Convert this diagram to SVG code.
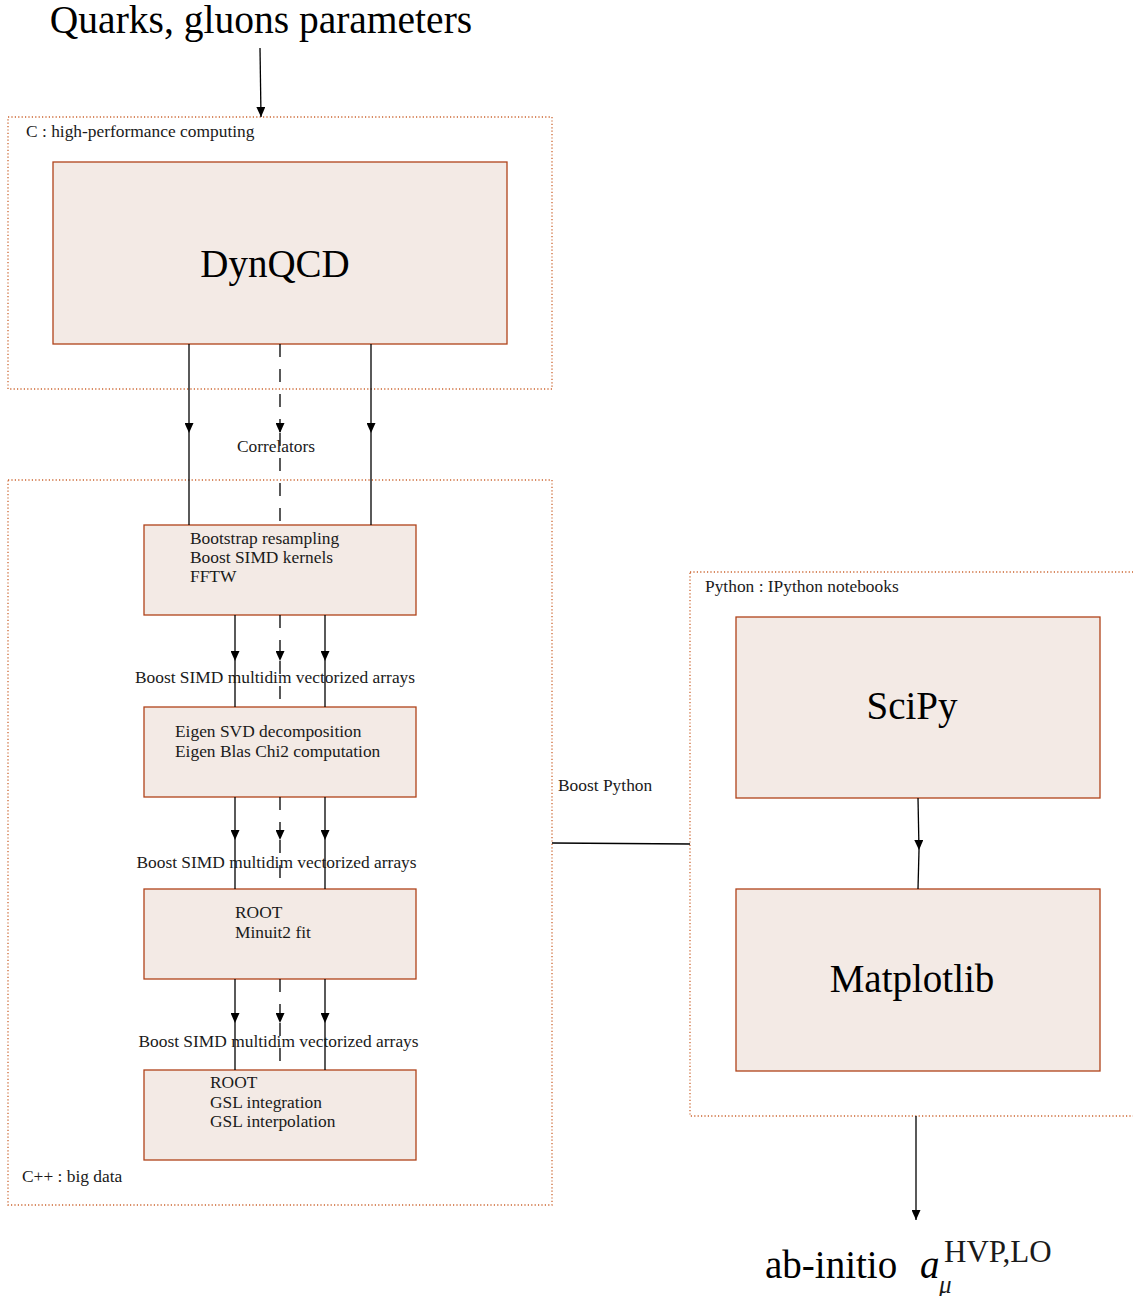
<svg xmlns="http://www.w3.org/2000/svg" width="1133" height="1296" viewBox="0 0 1133 1296">
<style>
  text { font-family: "Liberation Serif", "Times New Roman", serif; fill: #1a1a1a; }
  .big { font-size: 39px; fill: #000; }
  .small { font-size: 17.4px; }
  .title { font-size: 39.5px; fill: #000; }
  .box { fill: #f3eae5; stroke: #b0421a; stroke-width: 1.3; }
  .frame { fill: none; stroke: #cc6530; stroke-width: 1.3; stroke-dasharray: 1.2 2.2; }
  .conn { fill: none; stroke: #000; stroke-width: 1.3; }
  .dash { stroke-dasharray: 13 12; }
</style>
<defs>
  <marker id="arr" viewBox="0 0 10 9" refX="10" refY="4.5" markerWidth="10" markerHeight="9" markerUnits="userSpaceOnUse" orient="auto">
    <path d="M0,0 L10,4.5 L0,9 z" fill="#000"/>
  </marker>
</defs>
<rect width="1133" height="1296" fill="#fff"/>

<g id="group-c">
  <rect class="frame" x="8" y="117" width="544" height="272"/>
  <text class="small" x="26" y="137">C : high-performance computing</text>
</g>
<g id="group-cpp">
  <rect class="frame" x="8" y="480" width="544" height="725"/>
  <text class="small" x="22" y="1182">C++ : big data</text>
</g>
<g id="group-python">
  <rect class="frame" x="690" y="572" width="460" height="544"/>
  <text class="small" x="705" y="592">Python : IPython notebooks</text>
</g>

<g id="input">
  <text class="title" x="261" y="33" text-anchor="middle">Quarks, gluons parameters</text>
</g>

<g id="dynqcd">
  <rect class="box" x="53" y="162" width="454" height="182"/>
  <text class="big" x="275" y="277" text-anchor="middle">DynQCD</text>
</g>

<g id="bootstrap">
  <rect class="box" x="144" y="525" width="272" height="90"/>
  <text class="small" x="190" y="544">Bootstrap resampling</text>
  <text class="small" x="190" y="563">Boost SIMD kernels</text>
  <text class="small" x="190" y="582">FFTW</text>
</g>

<g id="eigen">
  <rect class="box" x="144" y="707" width="272" height="90"/>
  <text class="small" x="175" y="737">Eigen SVD decomposition</text>
  <text class="small" x="175" y="757">Eigen Blas Chi2 computation</text>
</g>

<g id="root-fit">
  <rect class="box" x="144" y="889" width="272" height="90"/>
  <text class="small" x="235" y="918">ROOT</text>
  <text class="small" x="235" y="938">Minuit2 fit</text>
</g>

<g id="root-gsl">
  <rect class="box" x="144" y="1070" width="272" height="90"/>
  <text class="small" x="210" y="1088">ROOT</text>
  <text class="small" x="210" y="1108">GSL integration</text>
  <text class="small" x="210" y="1127">GSL interpolation</text>
</g>

<g id="scipy">
  <rect class="box" x="736" y="617" width="364" height="181"/>
  <text class="big" x="912" y="719" text-anchor="middle">SciPy</text>
</g>

<g id="matplotlib">
  <rect class="box" x="736" y="889" width="364" height="182"/>
  <text class="big" x="912" y="992" text-anchor="middle">Matplotlib</text>
</g>

<g id="output">
  <text class="big" x="765" y="1278">ab-initio</text>
  <text class="big" x="920" y="1278" font-style="italic">a</text>
  <text x="944" y="1262" font-size="31" fill="#000">HVP,LO</text>
  <text x="939" y="1293" font-size="25" font-style="italic" fill="#000">μ</text>
</g>

<g id="connectors">
  <path class="conn" d="M260,48 L261,117" marker-end="url(#arr)"/>

  <path class="conn" d="M189,344 V433" marker-end="url(#arr)"/>
  <path class="conn" d="M189,433 V525"/>
  <path class="conn dash" d="M280,344 V433" marker-end="url(#arr)"/>
  <path class="conn dash" d="M280,433 V525"/>
  <path class="conn" d="M371,344 V433" marker-end="url(#arr)"/>
  <path class="conn" d="M371,433 V525"/>

  <path class="conn" d="M235,615 V661" marker-end="url(#arr)"/>
  <path class="conn" d="M235,661 V707"/>
  <path class="conn dash" d="M280,615 V661" marker-end="url(#arr)"/>
  <path class="conn dash" d="M280,661 V707"/>
  <path class="conn" d="M325,615 V661" marker-end="url(#arr)"/>
  <path class="conn" d="M325,661 V707"/>

  <path class="conn" d="M235,797 V840" marker-end="url(#arr)"/>
  <path class="conn" d="M235,840 V889"/>
  <path class="conn dash" d="M280,797 V840" marker-end="url(#arr)"/>
  <path class="conn dash" d="M280,840 V889"/>
  <path class="conn" d="M325,797 V840" marker-end="url(#arr)"/>
  <path class="conn" d="M325,840 V889"/>

  <path class="conn" d="M235,979 V1023" marker-end="url(#arr)"/>
  <path class="conn" d="M235,1023 V1070"/>
  <path class="conn dash" d="M280,979 V1023" marker-end="url(#arr)"/>
  <path class="conn dash" d="M280,1023 V1070"/>
  <path class="conn" d="M325,979 V1023" marker-end="url(#arr)"/>
  <path class="conn" d="M325,1023 V1070"/>

  <path class="conn" d="M552,843 L690,844"/>

  <path class="conn" d="M918,798 L919,850" marker-end="url(#arr)"/>
  <path class="conn" d="M919,850 L918,889"/>

  <path class="conn" d="M916,1116 V1220" marker-end="url(#arr)"/>
</g>

<g id="connector-labels">
  <text class="small" x="276" y="452" text-anchor="middle">Correlators</text>
  <text class="small" x="275" y="683" text-anchor="middle">Boost SIMD multidim vectorized arrays</text>
  <text class="small" x="276.5" y="868" text-anchor="middle">Boost SIMD multidim vectorized arrays</text>
  <text class="small" x="278.5" y="1047" text-anchor="middle">Boost SIMD multidim vectorized arrays</text>
  <text class="small" x="558" y="791">Boost Python</text>
</g>
</svg>
